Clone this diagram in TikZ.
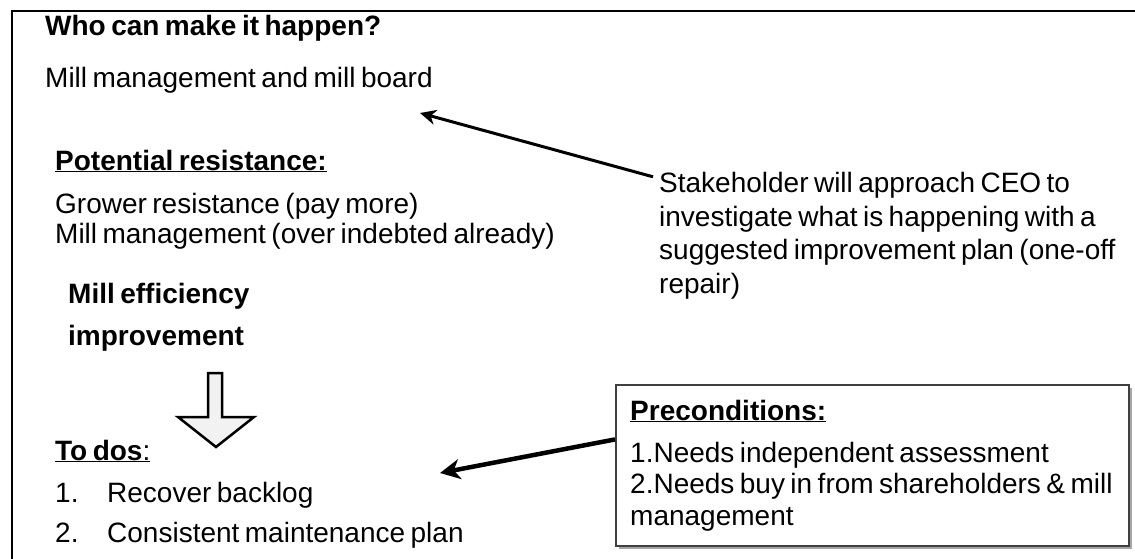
\documentclass[tikz,border=0pt]{standalone}
\usepackage{fontspec}
\setmainfont{Liberation Sans}[WordSpace=0.7]
\usetikzlibrary{positioning,arrows.meta,shadows,calc}
\definecolor{framec}{HTML}{000000}
\definecolor{boxc}{HTML}{404040}
\definecolor{shadowc}{HTML}{A6A6A6}
\definecolor{blockc}{HTML}{F2F2F2}
\tikzset{
  txt/.style={font=\fontsize{28}{30}\selectfont, inner sep=0pt,
              text height=20pt, text depth=6pt, anchor=base west},
  btxt/.style={txt, font=\fontsize{28}{30}\selectfont\bfseries},
  next/.style={below=#1, anchor=north west},
  arr/.style={-{Stealth[length=16pt, width=15pt, inset=5pt]}, line width=3pt},
  blockarr/.style={draw=black, fill=blockc, line width=2.5pt, line join=miter},
  prebox/.style={draw=boxc, fill=white, line width=2pt, inner sep=0pt,
                 minimum width=513pt, minimum height=161pt, anchor=north west,
                 drop shadow={shadow xshift=3pt, shadow yshift=-3pt, fill=shadowc, opacity=1}},
}
\begin{document}
\begin{tikzpicture}[x=1pt, y=-1pt]
  \useasboundingbox (0,0) rectangle (1135,559);
  \draw[framec, line width=2.5pt] (12,559) -- (12,11) -- (1135,11);

  % left column
  \node[btxt] (who) at (45,36) {Who can make it happen?};
  \node[txt, next=25pt of who.south west] (board) {Mill management and mill board};
  \node[btxt] (potres) at (55,170) {\underline{Potential resistance:}};
  \node[txt, next=17pt of potres.south west] (grower) {Grower resistance (pay more)};
  \node[txt, next=4pt of grower.south west] (millres) {Mill management (over indebted already)};
  \node[btxt] (eff) at (68,303) {Mill efficiency};
  \node[btxt, next=16pt of eff.south west] (impr) {improvement};
  \node[txt] (todos) at (55,460) {\underline{\textbf{To dos}:}};
  \node[txt, next=16pt of todos.south west] (item1) {\makebox[52pt][l]{1.}Recover backlog};
  \node[txt, next=14pt of item1.south west] (item2) {\makebox[52pt][l]{2.}Consistent maintenance plan};

  % block arrow
  \draw[blockarr] (208,373) -- (222,373) -- (222,417) -- (254,417) -- (216,447)
    -- (178,417) -- (208,417) -- cycle;

  % right side
  \node[txt] (stake1) at (659,193) {Stakeholder will approach CEO to};
  \node[txt, next=7pt of stake1.south west] (stake2) {investigate what is happening with a};
  \node[txt, next=7pt of stake2.south west] (stake3) {suggested improvement plan (one-off};
  \node[txt, next=7pt of stake3.south west] (stake4) {repair)};

  \node[prebox] (box) at (615,384) {};
  \node[btxt] (pre0) at (630,420) {\underline{Preconditions:}};
  \node[txt, next=16pt of pre0.south west] (pre1) {1.Needs independent assessment};
  \node[txt, next=5pt of pre1.south west] (pre2) {2.Needs buy in from shareholders \& mill};
  \node[txt, next=5pt of pre2.south west] (pre3) {management};

  % arrows
  \coordinate (boardtip) at (420,113);
  \coordinate (todotip) at (440,473);
  \draw[arr] ($(stake1.north west)+(-6,4)$) -- (boardtip);
  \draw[arr, line width=4.5pt, -{Stealth[length=20pt, width=20pt, inset=6pt]}]
    ($(box.north west)!0.34!(box.south west)$) -- (todotip);
\end{tikzpicture}
\end{document}
